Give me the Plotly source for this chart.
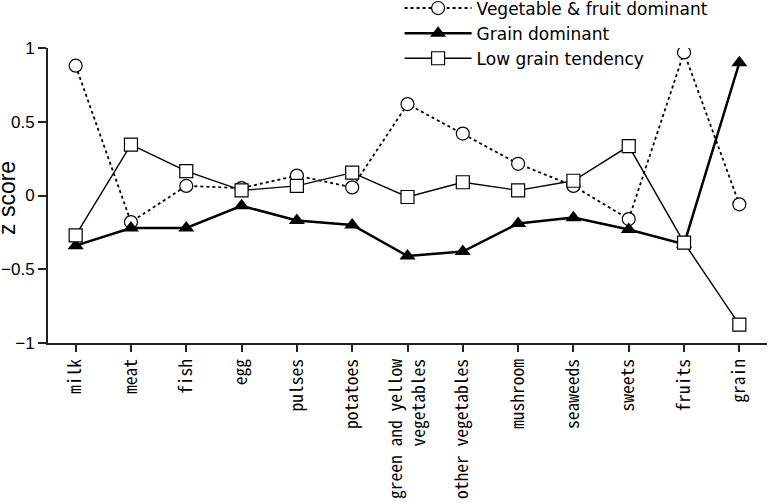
import plotly.graph_objects as go

categories = ["milk", "meat", "fish", "egg", "pulses", "potatoes",
              "green and yellow<br>vegetables", "other vegetables", "mushroom",
              "seaweeds", "sweets", "fruits", "grain"]
veg_fruit = [0.88, -0.18, 0.065, 0.05, 0.135, 0.055, 0.62, 0.42, 0.215, 0.065, -0.16, 0.97, -0.06]
grain_dom = [-0.34, -0.22, -0.22, -0.07, -0.17, -0.20, -0.41, -0.38, -0.19, -0.15, -0.23, -0.33, 0.90]
low_grain = [-0.27, 0.345, 0.165, 0.035, 0.065, 0.155, -0.01, 0.09, 0.035, 0.10, 0.335, -0.32, -0.875]
y_ticks = [-1, -0.5, 0, 0.5, 1]
y_tick_labels = ["\u22121", "\u22120.5", "0", "0.5", "1"]

x = list(range(len(categories)))

fig = go.Figure()
fig.add_trace(go.Scatter(
    x=x, y=veg_fruit, name="Vegetable & fruit dominant", mode="lines+markers",
    line=dict(color="black", width=1.8, dash="dot"),
    marker=dict(symbol="circle", size=13, color="white", line=dict(color="black", width=1.2)),
))
fig.add_trace(go.Scatter(
    x=x, y=grain_dom, name="Grain dominant", mode="lines+markers",
    line=dict(color="black", width=2.5),
    marker=dict(symbol="triangle-up", size=14, color="black", line=dict(color="black", width=0)),
))
fig.add_trace(go.Scatter(
    x=x, y=low_grain, name="Low grain tendency", mode="lines+markers",
    line=dict(color="black", width=1.4),
    marker=dict(symbol="square", size=13, color="white", line=dict(color="black", width=1.2)),
))

fig.update_layout(
    template="none",
    width=768, height=504,
    margin=dict(l=48, r=1, t=48, b=161, autoexpand=False),
    paper_bgcolor="white", plot_bgcolor="white",
    showlegend=True,
    legend=dict(
        x=0.489, y=1.195, xanchor="left", yanchor="top",
        font=dict(family="DejaVu Sans", size=17, color="black"),
        bgcolor="rgba(0,0,0,0)", itemwidth=67, tracegroupgap=0, borderwidth=0,
    ),
    xaxis=dict(
        automargin=False,
        range=[-0.5, 12.5], tickmode="array", tickvals=x, ticktext=categories,
        tickangle=-90, showgrid=False, zeroline=False,
        showline=True, linecolor="#222", linewidth=2,
        ticks="outside", ticklen=7, tickwidth=1.5, tickcolor="#222",
        tickfont=dict(family="Noto Sans Mono CJK JP, DejaVu Sans Mono", size=17.5, color="black"),
    ),
    yaxis=dict(
        automargin=False,
        range=[-1, 1], tickmode="array", tickvals=y_ticks, ticktext=y_tick_labels,
        showgrid=False, zeroline=False,
        showline=True, linecolor="#222", linewidth=2,
        ticks="outside", ticklen=8, tickwidth=1.5, tickcolor="#222",
        tickfont=dict(family="Liberation Sans", size=17, color="black"),
    ),
    annotations=[dict(
        text="z score", textangle=-90, showarrow=False,
        xref="paper", yref="paper", x=-0.0563, y=0.49, xanchor="center", yanchor="middle",
        font=dict(family="Liberation Sans", size=23, color="black"),
    )],
)

fig.write_html("out.html", config={"displayModeBar": False},
               post_script="document.body.style.margin='0';document.body.style.padding='0';")
